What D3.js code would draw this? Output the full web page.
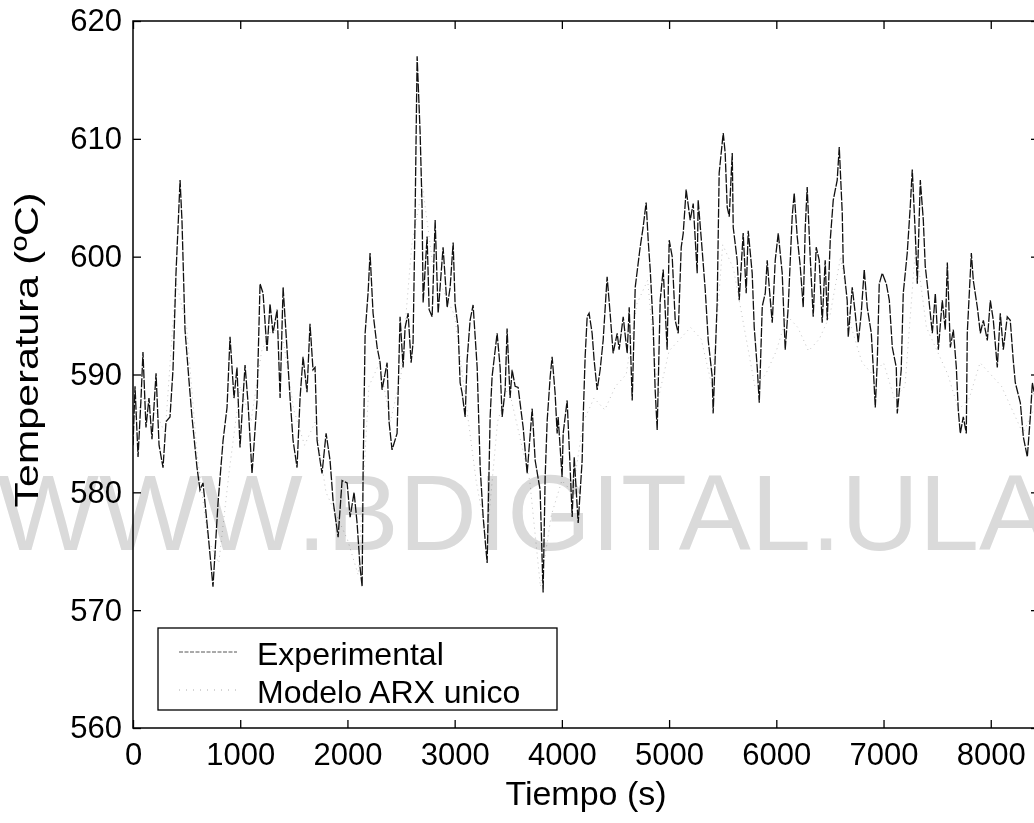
<!DOCTYPE html>
<html>
<head>
<meta charset="utf-8">
<script src="https://cdn.jsdelivr.net/npm/d3@7"></script>
<style>
  body { margin: 0; background: #fff; }
  svg { font-family: "Liberation Sans", Arial, Helvetica, sans-serif; }
</style>
</head>
<body>
<div id="chart"></div>
<script>
// Experimental temperature, time (s) and value (ºC)
const tExp = [0, 19, 47, 75, 93, 121, 149, 177, 215, 243, 280, 308, 345, 373, 401, 420, 439, 457, 485, 522,
  550, 597, 625, 653, 700, 746, 793, 840, 877, 905, 942, 970, 998, 1045, 1073, 1110, 1157, 1185, 1213, 1250,
  1278, 1306, 1344, 1372, 1400, 1437, 1465, 1493, 1530, 1558, 1586, 1623, 1651, 1679, 1698, 1717, 1763, 1801, 1838, 1866,
  1913, 1950, 1997, 2025, 2062, 2090, 2118, 2137, 2146, 2165, 2193, 2211, 2239, 2277, 2305, 2323, 2370, 2388, 2416, 2463,
  2491, 2519, 2538, 2566, 2594, 2612, 2631, 2650, 2678, 2696, 2706, 2743, 2762, 2790, 2818, 2846, 2892, 2930, 2958, 2986,
  3004, 3032, 3051, 3070, 3098, 3116, 3144, 3172, 3210, 3238, 3266, 3303, 3331, 3349, 3377, 3396, 3424, 3443, 3471, 3489,
  3517, 3536, 3564, 3592, 3639, 3676, 3723, 3751, 3797, 3825, 3844, 3863, 3891, 3909, 3937, 3956, 3965, 4002, 4012, 4049,
  4077, 4096, 4115, 4152, 4189, 4199, 4217, 4236, 4254, 4282, 4301, 4329, 4357, 4385, 4422, 4450, 4478, 4516, 4534, 4572,
  4609, 4628, 4656, 4684, 4730, 4758, 4786, 4805, 4824, 4852, 4870, 4889, 4917, 4945, 4982, 5001, 5029, 5057, 5085, 5113,
  5132, 5159, 5197, 5225, 5262, 5271, 5309, 5337, 5365, 5402, 5411, 5430, 5449, 5467, 5505, 5523, 5542, 5561, 5589, 5598,
  5635, 5654, 5691, 5719, 5738, 5775, 5794, 5822, 5841, 5869, 5897, 5915, 5934, 5962, 5990, 6018, 6055, 6083, 6111, 6148,
  6167, 6195, 6223, 6251, 6270, 6288, 6316, 6344, 6372, 6400, 6428, 6456, 6475, 6503, 6531, 6568, 6587, 6615, 6624, 6661,
  6671, 6708, 6736, 6764, 6792, 6820, 6848, 6886, 6904, 6923, 6942, 6960, 6988, 7026, 7054, 7082, 7119, 7128, 7165, 7184,
  7221, 7249, 7268, 7296, 7315, 7343, 7371, 7389, 7417, 7455, 7483, 7511, 7548, 7576, 7595, 7623, 7651, 7679, 7697, 7716,
  7744, 7772, 7781, 7800, 7819, 7837, 7875, 7903, 7931, 7968, 7996, 8024, 8061, 8089, 8117, 8154, 8182, 8210, 8229, 8276,
  8304, 8341, 8369, 8388, 8425, 8453];
const yExp = [584, 589, 583, 588, 591.9, 585.5, 588, 584.5, 590.1, 584, 582.1, 586, 586.4, 590.4, 598.6, 602.5, 606.5, 603, 593.8, 589.5,
  586.4, 582.1, 580.2, 580.8, 576.5, 572, 579.1, 584.4, 587.2, 593.2, 588, 590.6, 583.8, 590.8, 587.6, 581.6, 587.8, 597.7, 596.9, 592,
  596, 593.5, 595.5, 588, 597.4, 592.1, 588, 584.4, 582.1, 588, 591.5, 588.5, 594.3, 590.4, 590.6, 584.4, 581.6, 585, 582.7, 579.3,
  576.2, 581, 580.8, 577.9, 580, 577.4, 573.6, 572, 581.6, 593.5, 597, 600.3, 595.2, 592.3, 591, 588.7, 591, 586, 583.6, 585,
  594.9, 590.6, 594, 595.2, 591, 592.7, 603.4, 617, 610.5, 604.2, 596.1, 601.7, 595.5, 594.9, 603.1, 595.2, 600.8, 595.7, 597.4, 601.2,
  596, 594, 589.3, 588.4, 586.4, 591.2, 594.6, 595.9, 590.6, 582.1, 577.9, 574, 586.4, 589.8, 592, 593.5, 590.6, 586.4, 588.7, 593.9,
  588, 590.4, 589, 588.9, 585.5, 581.6, 587.1, 582.7, 580.2, 571.5, 581.3, 586.1, 589.8, 591.5, 588.4, 585, 586.4, 581.3, 585, 587.8,
  582.1, 577.9, 583, 577.4, 582.7, 586.4, 591.5, 594.9, 595.2, 593.5, 591.2, 588.7, 590.4, 592.9, 598.3, 595.2, 591.8, 593.5, 592.1, 594.9,
  591.8, 595.7, 587.8, 597.4, 600.8, 602.5, 604.6, 601.4, 598.9, 594, 588.7, 585.3, 596.3, 598.9, 592.1, 601.4, 600, 594.6, 593.5, 600.8,
  602, 605.7, 603.1, 604.5, 598.6, 604.8, 600.5, 597.2, 592.9, 589.8, 586.7, 591.5, 596.3, 607.1, 610.5, 608.8, 604.2, 603.4, 608.8, 602.5,
  599.7, 596.3, 602, 596.9, 602.2, 598.6, 594, 590.6, 587.6, 595.8, 596.9, 599.7, 597.4, 594.4, 599.7, 602, 598.6, 592.1, 595.7, 603.4,
  605.4, 601.7, 599.2, 595.7, 602.5, 605.9, 600, 594.9, 600.8, 599.7, 594.4, 599.7, 594.6, 601.4, 604.8, 606.5, 609.3, 603.7, 599.5, 596.3,
  593.2, 597.4, 595.2, 592.7, 595.2, 598.9, 595.7, 593.5, 590.6, 587.2, 591.2, 597.7, 598.6, 597.7, 596.3, 592.3, 590.6, 586.7, 590.4, 596.9,
  600.3, 604.2, 607.4, 602, 597.7, 606.5, 603.1, 599.2, 596.9, 593.5, 596.9, 592.1, 596.3, 593.8, 599.5, 592.3, 593.8, 590.6, 587, 585,
  586.4, 585, 593.5, 596.9, 600.3, 598, 595.7, 593.5, 594.6, 592.9, 596.3, 594.6, 590.6, 595.2, 592.1, 594.9, 594.6, 591.2, 589.3, 587.6,
  584.7, 583, 586.4, 589.3, 587.5, 586];

// Single ARX model output, every 100 s
const tArx = d3.range(0, 8500, 100);
const yArx = [586, 588, 587, 585, 598, 594, 583, 576, 574, 582, 589, 586, 592, 594, 593, 587, 584, 586, 580, 578,
  576, 573, 589, 591, 586, 590, 601, 606, 599, 597, 595, 588, 581, 576, 586, 589, 585, 581, 572, 578,
  581, 580, 586, 588, 587, 589, 590, 596, 598, 588, 592, 593, 594, 593, 589, 601, 599, 594, 589, 590,
  592, 595, 594, 592, 593, 595, 600, 594, 591, 590, 591, 588, 589, 601, 594, 592, 590, 587, 588, 591,
  590, 589, 587, 585, 587];

// axis ticks and legend labels
const xTicks = [0, 1000, 2000, 3000, 4000, 5000, 6000, 7000, 8000];
const yTicks = [560, 570, 580, 590, 600, 610, 620];
const legendLabels = ["Experimental", "Modelo ARX unico"];

// SVG definitions
const W = 1034, H = 823;
const margin = {top: 21, right: -5, bottom: 95, left: 133};
const width = W - margin.left - margin.right;
const height = H - margin.top - margin.bottom;

const svg = d3.select("#chart").append("svg")
  .attr("width", W)
  .attr("height", H);

const g = svg.append("g")
  .attr("transform", `translate(${margin.left}, ${margin.top})`);

const xScale = d3.scaleLinear().domain([0, 8450]).range([0, width]);
const yScale = d3.scaleLinear().domain([560, 620]).range([height, 0]);

g.append("clipPath").attr("id", "plot-clip")
  .append("rect").attr("width", width).attr("height", height);

// data lines
const expData = tExp.map((t, i) => ({t: t, v: yExp[i]}));
const arxData = tArx.map((t, i) => ({t: t, v: yArx[i]}));
const line = d3.line().x(d => xScale(d.t)).y(d => yScale(d.v));

g.append("path")
  .datum(arxData)
  .attr("clip-path", "url(#plot-clip)")
  .attr("fill", "none")
  .attr("stroke", "#c4c4c4")
  .attr("stroke-width", 1)
  .attr("stroke-dasharray", "1,4")
  .attr("d", line);

g.append("path")
  .datum(expData)
  .attr("clip-path", "url(#plot-clip)")
  .attr("fill", "none")
  .attr("stroke", "#111")
  .attr("stroke-width", 1.3)
  .attr("stroke-dasharray", "9,1.5")
  .attr("d", line);

// axes, ticks pointing inwards on all four sides
function styleAxis(sel) {
  sel.select(".domain").remove();
  sel.selectAll(".tick line").attr("stroke", "#000").attr("stroke-width", 1.3);
  sel.selectAll(".tick text").attr("fill", "#000").attr("font-size", "31px")
    .style("font-family", "'Liberation Sans', Arial, sans-serif");
}

g.append("g")
  .attr("transform", `translate(0, ${height})`)
  .call(d3.axisBottom(xScale).tickValues(xTicks).tickSize(-8).tickPadding(15).tickFormat(d3.format("d")))
  .call(styleAxis);

g.append("g")
  .call(d3.axisTop(xScale).tickValues(xTicks).tickSize(-8).tickFormat(""))
  .call(styleAxis);

g.append("g")
  .call(d3.axisLeft(yScale).tickValues(yTicks).tickSize(-8).tickPadding(11).tickFormat(d3.format("d")))
  .call(styleAxis);

g.append("g")
  .attr("transform", `translate(${width}, 0)`)
  .call(d3.axisRight(yScale).tickValues(yTicks).tickSize(-8).tickFormat(""))
  .call(styleAxis);

// frame
g.append("rect")
  .attr("width", width)
  .attr("height", height)
  .attr("fill", "none")
  .attr("stroke", "#000")
  .attr("stroke-width", 1.5);

// legend
const legend = g.append("g").attr("transform", "translate(25, 607)");
legend.append("rect")
  .attr("width", 399).attr("height", 82)
  .attr("fill", "#fff").attr("stroke", "#000").attr("stroke-width", 1.3);

const legendStyles = [
  {stroke: "#555", dash: "4,1.5", width: 1},
  {stroke: "#aaa", dash: "1,6", width: 1}
];
legendLabels.forEach((label, i) => {
  const y = 24 + i * 38;
  legend.append("line")
    .attr("x1", 21).attr("x2", 79).attr("y1", y).attr("y2", y)
    .attr("stroke", legendStyles[i].stroke)
    .attr("stroke-width", legendStyles[i].width)
    .attr("stroke-dasharray", legendStyles[i].dash);
  legend.append("text")
    .attr("x", 99).attr("y", y + 13)
    .attr("font-size", "32px")
    .text(label);
});

// axis labels
svg.append("text")
  .attr("x", margin.left + xScale(4225))
  .attr("y", 805)
  .attr("text-anchor", "middle")
  .attr("font-size", "34px")
  .text("Tiempo (s)");

svg.append("text")
  .attr("transform", "translate(38, 350) rotate(-90)")
  .attr("text-anchor", "middle")
  .attr("font-size", "33px")
  .attr("textLength", 315)
  .attr("lengthAdjust", "spacingAndGlyphs")
  .text("Temperatura (ºC)");

// repository watermark over the figure
svg.append("text")
  .attr("x", -3)
  .attr("y", 550)
  .attr("font-size", "108px")
  .attr("fill", "#dadada")
  .style("mix-blend-mode", "multiply")
  .text("WWW.BDIGITAL.ULA");
</script>
</body>
</html>
